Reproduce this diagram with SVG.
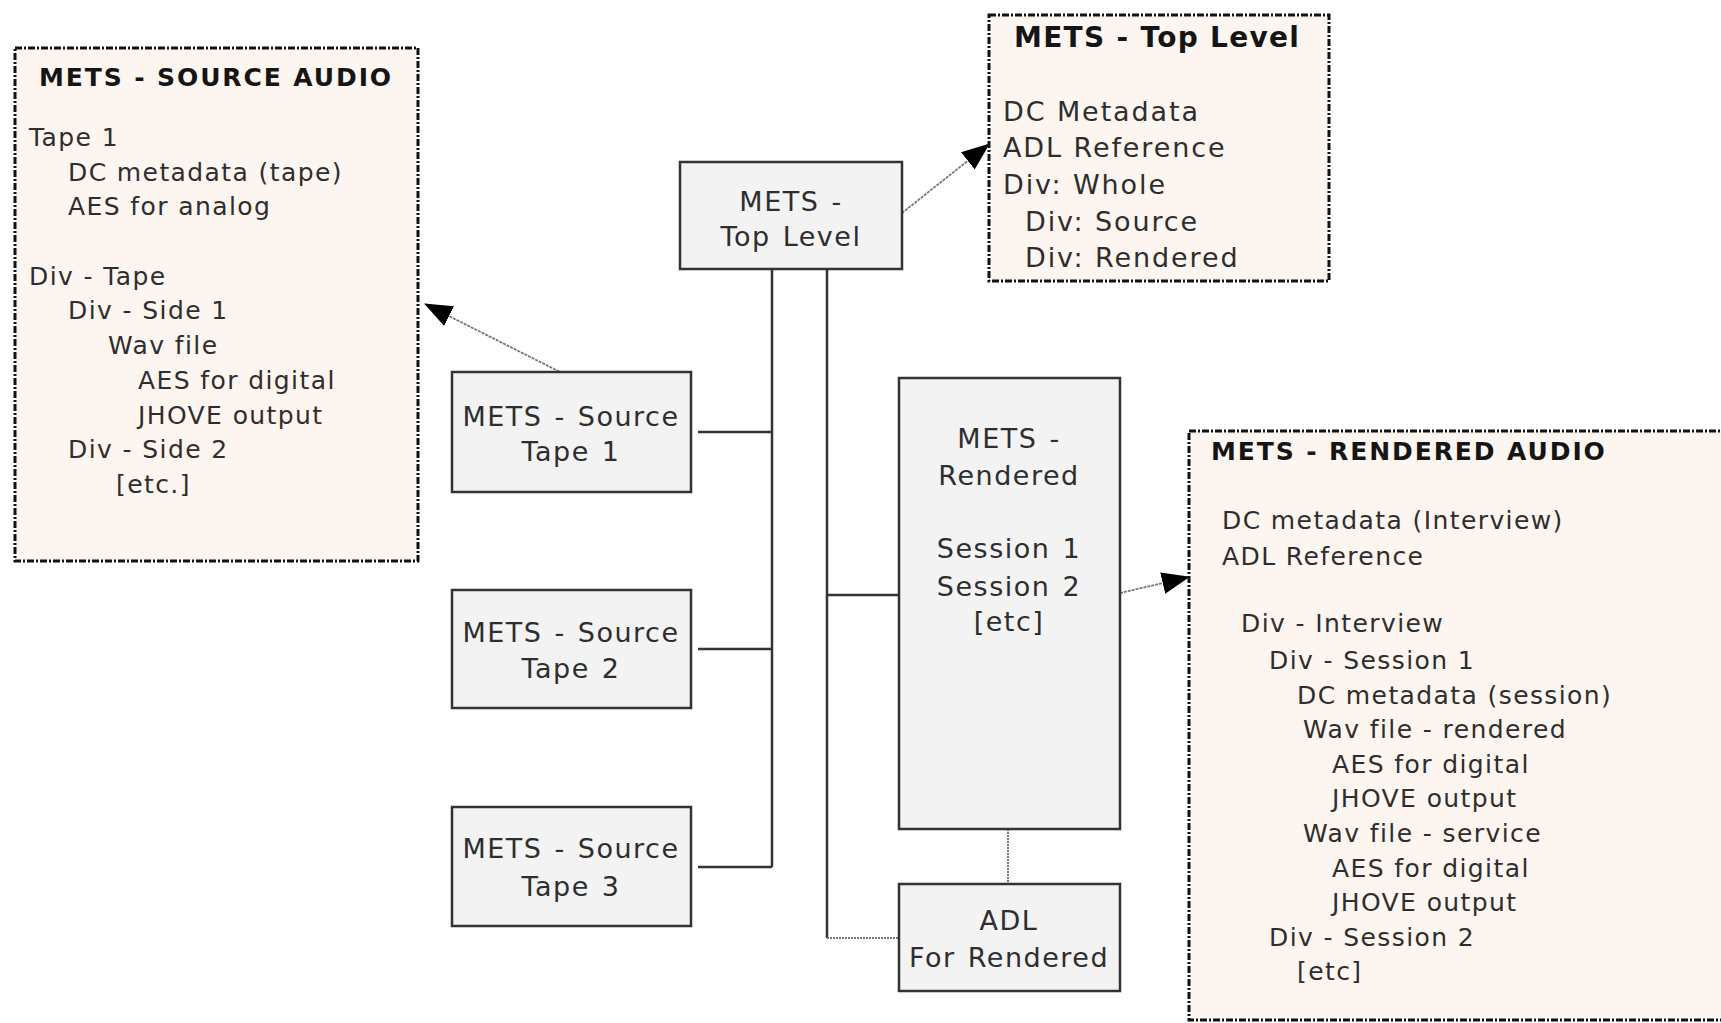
<svg xmlns="http://www.w3.org/2000/svg" width="1721" height="1023" viewBox="0 0 1721 1023">
<defs>
<marker id="ah" markerUnits="userSpaceOnUse" markerWidth="28" markerHeight="22" viewBox="0 0 28 22" refX="27" refY="11" orient="auto">
<path d="M0,0 L28,11 L0,22 z" fill="#000"/>
</marker>
<style>
.note{fill:#fdf5ef;stroke:#111;stroke-width:3;stroke-dasharray:7 2 2 2}
.box{fill:#f3f3f3;stroke:#333;stroke-width:2.5}
.t{font-family:"DejaVu Sans",Verdana,sans-serif;fill:#2e2e2e}
.nt{font-size:27px;letter-spacing:1.5px;word-spacing:2px;text-anchor:middle}
.lt{font-size:25px;letter-spacing:1.4px}
.tl{font-size:27px;letter-spacing:1.9px}
.h{font-weight:bold;fill:#151515}
.h1{font-size:25px;letter-spacing:1.9px}
.h2{font-size:28px;letter-spacing:1.3px}
.wire{fill:none;stroke:#333;stroke-width:2.5}
.dot{fill:none;stroke:#777;stroke-width:2;stroke-dasharray:2 1}
.arr{fill:none;stroke:#777;stroke-width:1.8;stroke-dasharray:3 1;marker-end:url(#ah)}
</style>
</defs>
<rect width="1721" height="1023" fill="#fff"/>

<g id="connectors">
<path class="wire" d="M772,270 V867 M698,432 H772 M698,649 H772 M698,867 H772"/>
<path class="wire" d="M827,270 V938 M827,595 H899"/>
<path class="dot" d="M827,938 H899 M1008,829 V884"/>
<line class="arr" x1="902" y1="213" x2="989" y2="144"/>
<line class="arr" x1="570" y1="377" x2="425" y2="304"/>
<line class="arr" x1="1120" y1="593" x2="1189" y2="577"/>
</g>

<g id="source-audio">
<rect class="note" x="15" y="48" width="403" height="513"/>
<text class="t h h1" x="39" y="86">METS - SOURCE AUDIO</text>
<text class="t lt" x="29" y="146">Tape 1</text>
<text class="t lt" x="68" y="181">DC metadata (tape)</text>
<text class="t lt" x="68" y="215">AES for analog</text>
<text class="t lt" x="29" y="285">Div - Tape</text>
<text class="t lt" x="68" y="319">Div - Side 1</text>
<text class="t lt" x="108" y="354">Wav file</text>
<text class="t lt" x="138" y="389">AES for digital</text>
<text class="t lt" x="138" y="424">JHOVE output</text>
<text class="t lt" x="68" y="458">Div - Side 2</text>
<text class="t lt" x="116" y="493">[etc.]</text>
</g>

<g id="top-level-note">
<rect class="note" x="989" y="15" width="340" height="266"/>
<text class="t h h2" x="1014" y="47">METS - Top Level</text>
<text class="t tl" x="1003" y="121">DC Metadata</text>
<text class="t tl" x="1003" y="157">ADL Reference</text>
<text class="t tl" x="1003" y="194">Div: Whole</text>
<text class="t tl" x="1025" y="231">Div: Source</text>
<text class="t tl" x="1025" y="267">Div: Rendered</text>
</g>

<g id="top-level">
<rect class="box" x="680" y="162" width="222" height="107"/>
<text class="t nt" x="791" y="211">METS -</text>
<text class="t nt" x="791" y="246">Top Level</text>
</g>

<g id="source-tape-1">
<rect class="box" x="452" y="372" width="239" height="120"/>
<text class="t nt" x="571" y="426">METS - Source</text>
<text class="t nt" x="571" y="461">Tape 1</text>
</g>

<g id="source-tape-2">
<rect class="box" x="452" y="590" width="239" height="118"/>
<text class="t nt" x="571" y="642">METS - Source</text>
<text class="t nt" x="571" y="678">Tape 2</text>
</g>

<g id="source-tape-3">
<rect class="box" x="452" y="807" width="239" height="119"/>
<text class="t nt" x="571" y="858">METS - Source</text>
<text class="t nt" x="571" y="896">Tape 3</text>
</g>

<g id="rendered">
<rect class="box" x="899" y="378" width="221" height="451"/>
<text class="t nt" x="1009" y="448">METS -</text>
<text class="t nt" x="1009" y="485">Rendered</text>
<text class="t nt" x="1009" y="558">Session 1</text>
<text class="t nt" x="1009" y="596">Session 2</text>
<text class="t nt" x="1009" y="631">[etc]</text>
</g>

<g id="adl-rendered">
<rect class="box" x="899" y="884" width="221" height="107"/>
<text class="t nt" x="1009" y="930">ADL</text>
<text class="t nt" x="1009" y="967">For Rendered</text>
</g>

<g id="rendered-audio">
<rect class="note" x="1189" y="431" width="540" height="589"/>
<text class="t h h1" x="1211" y="460">METS - RENDERED AUDIO</text>
<text class="t lt" x="1222" y="529">DC metadata (Interview)</text>
<text class="t lt" x="1222" y="565">ADL Reference</text>
<text class="t lt" x="1241" y="632">Div - Interview</text>
<text class="t lt" x="1269" y="669">Div - Session 1</text>
<text class="t lt" x="1297" y="704">DC metadata (session)</text>
<text class="t lt" x="1303" y="738">Wav file - rendered</text>
<text class="t lt" x="1332" y="773">AES for digital</text>
<text class="t lt" x="1332" y="807">JHOVE output</text>
<text class="t lt" x="1303" y="842">Wav file - service</text>
<text class="t lt" x="1332" y="877">AES for digital</text>
<text class="t lt" x="1332" y="911">JHOVE output</text>
<text class="t lt" x="1269" y="946">Div - Session 2</text>
<text class="t lt" x="1297" y="980">[etc]</text>
</g>
</svg>
